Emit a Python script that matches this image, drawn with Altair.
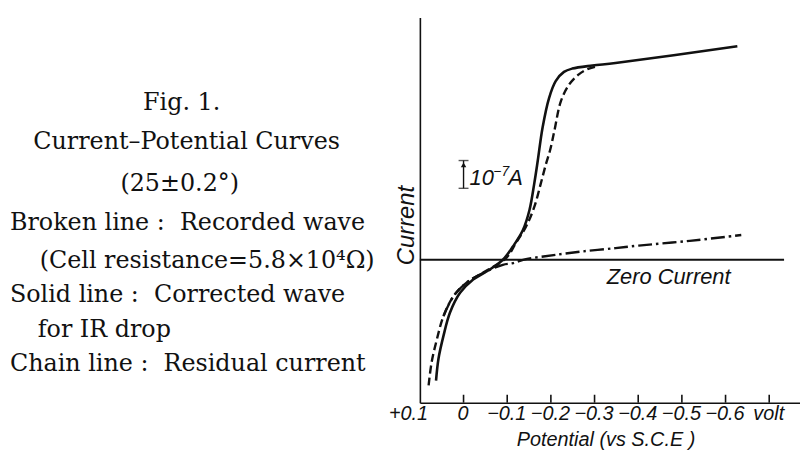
import altair as alt
import pandas as pd

# ---------------- data (potential in V vs S.C.E, current in units of 1e-7 A) ----------------
solid_E = [0.063, 0.0575, 0.046, 0.031, 0.008, -0.022, -0.059, -0.090, -0.113, -0.136,
           -0.151, -0.162, -0.170, -0.181, -0.196, -0.211, -0.230, -0.249, -0.295,
           -0.348, -0.627]
solid_I = [-4.35, -3.57, -2.74, -1.90, -1.19, -0.71, -0.36, 0.0, 0.475, 1.07,
           1.79, 2.75, 3.57, 4.76, 5.83, 6.43, 6.76, 6.88, 6.99,
           7.08, 7.68]

dashed_E = [0.080, 0.073, 0.061, 0.046, 0.023, -0.007, -0.045, -0.098, -0.120, -0.143,
            -0.162, -0.177, -0.189, -0.198, -0.208, -0.223, -0.242, -0.264, -0.287, -0.306]
dashed_I = [-4.52, -3.68, -2.86, -2.03, -1.31, -0.82, -0.46, 0.07, 0.61, 1.19,
            1.90, 2.75, 3.46, 3.93, 4.64, 5.71, 6.31, 6.67, 6.88, 6.96]

chain_E = [0.046, 0.023, -0.007, -0.045, -0.090, -0.113, -0.143, -0.173, -0.211, -0.272,
           -0.348, -0.401, -0.518, -0.636]
chain_I = [-2.03, -1.31, -0.82, -0.475, -0.18, -0.12, 0.025, 0.096, 0.18, 0.30,
           0.42, 0.51, 0.68, 0.89]

zero_line_E = [0.1, -0.734]
zero_current = 0.0

tick_values = [0.1, 0.0, -0.1, -0.2, -0.3, -0.4, -0.5, -0.6, -0.7]
tick_labels = ["+0.1", "0", "\u22120.1", "\u22120.2", "\u22120.3", "\u22120.4",
               "\u22120.5", "\u22120.6", "volt"]

scale_bar_E = 0.0
scale_bar_I = [2.571, 3.571]   # exactly 1 unit = 10^-7 A

caption_lines = [
    "Fig. 1.",
    "Current\u2013Potential Curves",
    "(25\u00b10.2\u00b0)",
    "Broken line :\u00a0 Recorded wave",
    "(Cell resistance=5.8\u00d710\u2074\u03a9)",
    "Solid line :\u00a0 Corrected wave",
    "for IR drop",
    "Chain line :\u00a0 Residual current",
]

# ---------------- layout ----------------
W, H = 383, 388
PAD = {"left": 415, "top": 8, "right": 0, "bottom": 48}
HAND = "Liberation Sans"
SERIF = "DejaVu Serif"
INK = "#111111"

xs = alt.Scale(domain=[-0.7705, 0.1], reverse=True, nice=False, zero=False)
ys = alt.Scale(domain=[-5.143, 8.714], nice=False, zero=False)

parts = [f"abs(datum.value - ({v})) < 0.01 ? '{lab}'" for v, lab in zip(tick_values, tick_labels)]
label_expr = " : ".join(parts) + " : ''"

x_axis = alt.Axis(
    values=tick_values, labelExpr=label_expr, ticks=False, tickSize=0, grid=False,
    domainColor=INK, domainWidth=1.6,
    labelFont=HAND, labelFontStyle="italic", labelFontSize=20, labelColor=INK,
    labelPadding=1, labelBaseline="top", labelFlush=False, labelOverlap=False,
    labelAlign="center",
    labelOffset={"condition": {"test": "datum.value > 0.05", "value": -12}, "value": -1},
    title="Potential (vs S.C.E )", titleFont=HAND, titleFontStyle="italic",
    titleFontWeight="normal", titleFontSize=20, titleColor=INK,
    titleX=187, titleY=43, titleBaseline="alphabetic",
)
y_axis = alt.Axis(
    labels=False, ticks=False, tickSize=0, grid=False,
    domainColor=INK, domainWidth=1.6,
    title="Current", titleFont=HAND, titleFontStyle="italic", titleFontWeight="normal",
    titleFontSize=24, titleColor=INK, titleAngle=270, titleX=-6, titleY=209,
    titleBaseline="alphabetic", titleAlign="center",
)

X = alt.X("E:Q", scale=xs, axis=x_axis)
Y = alt.Y("I:Q", scale=ys, axis=y_axis)


def curve(E, I):
    return pd.DataFrame({"E": E, "I": I, "k": list(range(len(E)))})


solid = alt.Chart(curve(solid_E, solid_I)).mark_line(
    color=INK, strokeWidth=2.6, interpolate="catmull-rom"
).encode(x=X, y=Y, order="k:Q")

dashed = alt.Chart(curve(dashed_E, dashed_I)).mark_line(
    color=INK, strokeWidth=2.4, interpolate="catmull-rom", strokeDash=[8, 4]
).encode(x=X, y=Y, order="k:Q")

chain = alt.Chart(curve(chain_E, chain_I)).mark_line(
    color=INK, strokeWidth=2.4, interpolate="catmull-rom", strokeDash=[14, 4, 2.5, 4]
).encode(x=X, y=Y, order="k:Q")

zero_df = pd.DataFrame({"E": [zero_line_E[0]], "E2": [zero_line_E[1]], "I": [zero_current]})
zero = alt.Chart(zero_df).mark_rule(color=INK, strokeWidth=2.2).encode(
    x=X, x2="E2:Q", y=Y
)

ticks_df = pd.DataFrame({"E": tick_values[1:]})
ticks = alt.Chart(ticks_df).mark_rule(color=INK, strokeWidth=1.6).encode(
    x=X, y=alt.value(H - 8), y2=alt.value(H)
)

sb_df = pd.DataFrame({"E": [scale_bar_E], "I": [scale_bar_I[0]], "I2": [scale_bar_I[1]]})
sb_rule = alt.Chart(sb_df).mark_rule(color=INK, strokeWidth=1.4).encode(x=X, y=Y, y2="I2:Q")
caps_df = pd.DataFrame({"E": [scale_bar_E, scale_bar_E], "I": scale_bar_I})
sb_caps = alt.Chart(caps_df).mark_tick(
    color=INK, orient="horizontal", size=10, thickness=1.4
).encode(x=X, y=Y)
arrow_df = pd.DataFrame({"E": [scale_bar_E], "I": [scale_bar_I[1] - 0.16]})
sb_arrow = alt.Chart(arrow_df).mark_point(
    shape="triangle-up", filled=True, color=INK, size=30, opacity=1
).encode(x=X, y=Y)

one = pd.DataFrame({"a": [0]})
sb_anchor = dict(x=alt.datum(-0.0136), y=alt.datum(2.68))
sb_t1 = alt.Chart(one).mark_text(
    text="10", font=HAND, fontStyle="italic", fontSize=22, color=INK,
    align="left", baseline="alphabetic"
).encode(**sb_anchor)
sb_t2 = alt.Chart(one).mark_text(
    text="\u22127", font=HAND, fontStyle="italic", fontSize=14, color=INK,
    align="left", baseline="alphabetic", dx=24, dy=-9
).encode(**sb_anchor)
sb_t3 = alt.Chart(one).mark_text(
    text="A", font=HAND, fontStyle="italic", fontSize=22, color=INK,
    align="left", baseline="alphabetic", dx=39
).encode(**sb_anchor)

zero_text = alt.Chart(one).mark_text(
    text="Zero Current", font=HAND, fontStyle="italic", fontSize=22, color=INK,
    align="left", baseline="alphabetic"
).encode(x=alt.datum(-0.328), y=alt.datum(-0.857))

# caption block to the left of the plot (page coordinates -> plot coordinates)
caption_pos = [(183, 109, "center"), (188, 148, "center"), (181, 191, "center"),
               (10, 230, "left"), (40, 268, "left"), (10, 303, "left"),
               (38, 338, "left"), (10, 372, "left")]
caption_layers = []
for line, (px, py, al) in zip(caption_lines, caption_pos):
    caption_layers.append(
        alt.Chart(one).mark_text(
            text=line, font=SERIF, fontSize=24, color=INK, align=al, baseline="alphabetic"
        ).encode(x=alt.value(px - 423), y=alt.value(py - 16))
    )

chart = alt.layer(
    zero, chain, dashed, solid, ticks, sb_rule, sb_caps, sb_arrow, sb_t1, sb_t2, sb_t3,
    zero_text, *caption_layers
).properties(
    width=W, height=H, padding=PAD, autosize=alt.AutoSizeParams(type="none"),
    background="white",
).configure_view(stroke=None)

chart.save("out.html", embed_options={"renderer": "svg", "actions": False})
